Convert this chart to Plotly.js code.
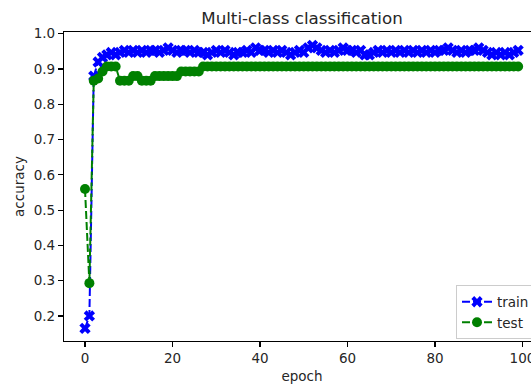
<!DOCTYPE html>
<html>
<head>
<meta charset="utf-8">
<script src="https://cdn.plot.ly/plotly-3.0.1.min.js"></script>
<style>
html,body{margin:0;padding:0;overflow:hidden;background:#fff;}
#chart{width:560px;height:387px;}
</style>
</head>
<body>
<div id="chart"></div>
<script>
const epochs = Array.from({length: 100}, (_, i) => i);

const trainAcc = [
  0.165, 0.2, 0.88, 0.92, 0.933, 0.94, 0.947, 0.94, 0.947, 0.953,
  0.947, 0.953, 0.947, 0.953, 0.947, 0.953, 0.953, 0.947, 0.953, 0.96,
  0.953, 0.947, 0.953, 0.953, 0.947, 0.953, 0.947, 0.947, 0.94, 0.947,
  0.953, 0.947, 0.953, 0.947, 0.94, 0.947, 0.947, 0.953, 0.947, 0.96,
  0.953, 0.953, 0.947, 0.953, 0.947, 0.953, 0.947, 0.94, 0.947, 0.953,
  0.947, 0.96, 0.967, 0.96, 0.953, 0.947, 0.953, 0.947, 0.953, 0.96,
  0.953, 0.953, 0.947, 0.953, 0.94, 0.94, 0.947, 0.953, 0.947, 0.953,
  0.947, 0.953, 0.947, 0.953, 0.947, 0.953, 0.947, 0.953, 0.947, 0.953,
  0.947, 0.953, 0.953, 0.96, 0.953, 0.947, 0.953, 0.947, 0.953, 0.953,
  0.96, 0.953, 0.947, 0.94, 0.947, 0.94, 0.947, 0.94, 0.947, 0.953
];

const testAcc = [
  0.56, 0.293, 0.867, 0.873, 0.893, 0.907, 0.907, 0.907, 0.867, 0.867,
  0.867, 0.88, 0.88, 0.867, 0.867, 0.867, 0.88, 0.88, 0.88, 0.88,
  0.88, 0.88, 0.893, 0.893, 0.893, 0.893, 0.893, 0.907, 0.907, 0.907,
  0.907, 0.907, 0.907, 0.907, 0.907, 0.907, 0.907, 0.907, 0.907, 0.907,
  0.907, 0.907, 0.907, 0.907, 0.907, 0.907, 0.907, 0.907, 0.907, 0.907,
  0.907, 0.907, 0.907, 0.907, 0.907, 0.907, 0.907, 0.907, 0.907, 0.907,
  0.907, 0.907, 0.907, 0.907, 0.907, 0.907, 0.907, 0.907, 0.907, 0.907,
  0.907, 0.907, 0.907, 0.907, 0.907, 0.907, 0.907, 0.907, 0.907, 0.907,
  0.907, 0.907, 0.907, 0.907, 0.907, 0.907, 0.907, 0.907, 0.907, 0.907,
  0.907, 0.907, 0.907, 0.907, 0.907, 0.907, 0.907, 0.907, 0.907, 0.907
];

const seriesNames = ['train', 'test'];
const xTicks = [0, 20, 40, 60, 80, 100];
const yTicks = [0.2, 0.3, 0.4, 0.5, 0.6, 0.7, 0.8, 0.9, 1.0];

const font = {family: 'DejaVu Sans, sans-serif', size: 13.5, color: '#262626'};

const traces = [
  {
    x: epochs, y: trainAcc, name: seriesNames[0], type: 'scatter', mode: 'lines+markers',
    line: {color: '#0000ff', width: 2, dash: '8px,3px'},
    marker: {color: '#0000ff', symbol: 'x', size: 10, line: {width: 0}}
  },
  {
    x: epochs, y: testAcc, name: seriesNames[1], type: 'scatter', mode: 'lines+markers',
    line: {color: '#008000', width: 2, dash: '8px,3px'},
    marker: {color: '#008000', symbol: 'circle', size: 10, line: {width: 0}}
  }
];

const layout = {
  width: 560, height: 387,
  margin: {l: 64, r: 20, t: 32, b: 46},
  paper_bgcolor: '#fff', plot_bgcolor: '#fff',
  font: font,
  showlegend: true,
  title: {
    text: 'Multi-class classification',
    font: {family: 'DejaVu Sans, sans-serif', size: 16.7, color: '#262626'},
    x: 0.5, xref: 'paper', xanchor: 'center',
    y: 1 - 18/387, yref: 'container', yanchor: 'middle'
  },
  xaxis: {
    range: [-4.8, 104], tickvals: xTicks, ticktext: xTicks.map(String),
    showgrid: false, zeroline: false,
    showline: true, linecolor: '#000', linewidth: 1.1, mirror: true,
    ticks: 'outside', ticklen: 5, tickwidth: 1.1, tickcolor: '#000',
    tickfont: font,
    title: {text: 'epoch', font: font, standoff: 6}
  },
  yaxis: {
    range: [0.129, 1.005], tickvals: yTicks, ticktext: yTicks.map(v => v.toFixed(1)),
    showgrid: false, zeroline: false,
    showline: true, linecolor: '#000', linewidth: 1.1, mirror: true,
    ticks: 'outside', ticklen: 5, tickwidth: 1.1, tickcolor: '#000',
    tickfont: font,
    title: {text: 'accuracy', font: font, standoff: 6}
  },
  legend: {
    x: 1 - 5/476, xanchor: 'right', y: 0.005, yanchor: 'bottom',
    bgcolor: 'rgba(255,255,255,0.8)', bordercolor: '#cccccc', borderwidth: 1,
    font: font, itemwidth: 30, tracegroupgap: 2
  }
};

Plotly.newPlot('chart', traces, layout, {displayModeBar: false, staticPlot: true});
</script>
</body>
</html>
